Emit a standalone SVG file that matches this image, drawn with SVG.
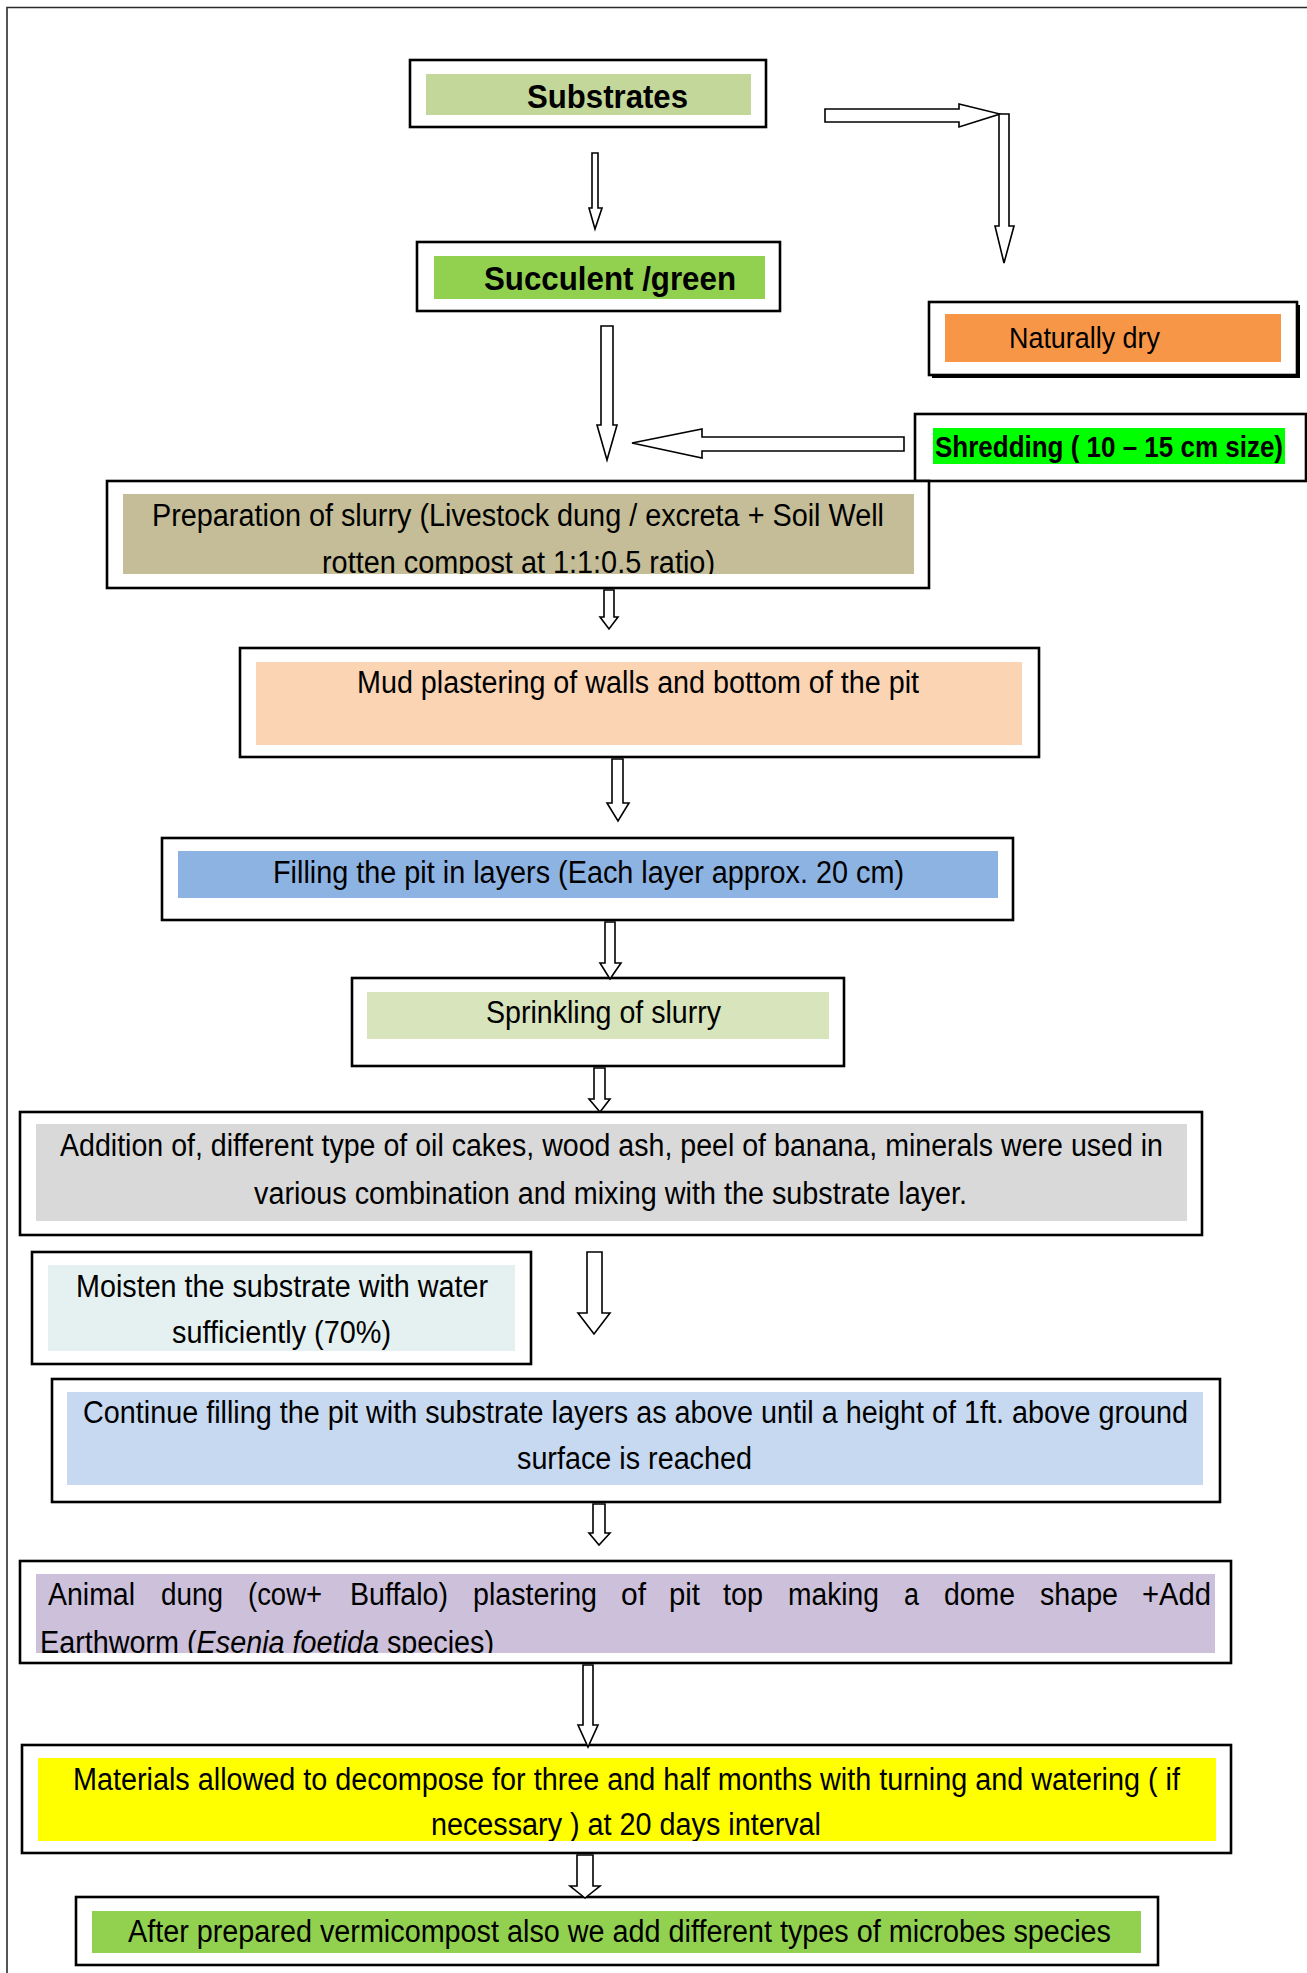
<svg xmlns="http://www.w3.org/2000/svg" width="1307" height="1973" viewBox="0 0 1307 1973">
<style>
.frame{fill:none;stroke:#2b2b2b;stroke-width:1.6}
.box{fill:#fff;stroke:#000;stroke-width:2.6}
.t{font-family:"Liberation Sans",Arial,sans-serif;font-size:31px;fill:#000}
.b{font-weight:bold;font-size:34px}
.arrow{fill:#fff;stroke:#000;stroke-width:1.6;stroke-linejoin:miter}
</style>
<defs>
<clipPath id="cPrep"><rect x="123" y="494" width="791" height="80"/></clipPath>
<clipPath id="cAnimal"><rect x="36" y="1574" width="1179" height="79"/></clipPath>
<clipPath id="cMat"><rect x="38" y="1758" width="1178" height="83"/></clipPath>
</defs>
<rect width="1307" height="1973" fill="#fff"/>
<path class="frame" d="M7,1973 V7.5 H1307"/>

<g id="substrates">
<rect class="box" x="410" y="60" width="356" height="67"/>
<rect x="426" y="74" width="325" height="41" fill="#C4D79B"/>
<text class="t b" x="527" y="108" textLength="161" lengthAdjust="spacingAndGlyphs">Substrates</text>
</g>

<g id="succulent">
<rect class="box" x="417" y="242" width="363" height="69"/>
<rect x="434" y="256" width="331" height="43" fill="#92D050"/>
<text class="t b" x="484" y="290" textLength="252" lengthAdjust="spacingAndGlyphs">Succulent /green</text>
</g>

<g id="naturally-dry">
<rect x="932" y="305" width="368" height="73" fill="#000"/>
<rect class="box" x="929" y="302" width="368" height="73"/>
<rect x="945" y="314" width="336" height="48" fill="#F79646"/>
<text class="t" style="font-size:29px" x="1009" y="348" textLength="151" lengthAdjust="spacingAndGlyphs">Naturally dry</text>
</g>

<g id="shredding">
<rect class="box" x="915" y="414" width="391" height="67"/>
<rect x="933" y="428" width="352" height="36" fill="#00FF00"/>
<text class="t b" style="font-size:30px" x="935" y="457" textLength="348" lengthAdjust="spacingAndGlyphs">Shredding ( 10 – 15 cm size)</text>
</g>

<g id="preparation">
<rect class="box" x="107" y="481" width="822" height="107"/>
<rect x="123" y="494" width="791" height="80" fill="#C4BD97"/>
<g clip-path="url(#cPrep)">
<text class="t" x="152" y="526" textLength="732" lengthAdjust="spacingAndGlyphs">Preparation of slurry (Livestock dung / excreta + Soil Well</text>
<text class="t" x="322" y="573" textLength="393" lengthAdjust="spacingAndGlyphs">rotten compost at 1:1:0.5 ratio)</text>
</g>
</g>

<g id="mud">
<rect class="box" x="240" y="648" width="799" height="109"/>
<rect x="256" y="662" width="766" height="83" fill="#FBD4B4"/>
<text class="t" x="357" y="693" textLength="562" lengthAdjust="spacingAndGlyphs">Mud plastering of walls and bottom of the pit</text>
</g>

<g id="filling">
<rect class="box" x="162" y="838" width="851" height="82"/>
<rect x="178" y="851" width="820" height="47" fill="#8DB3E2"/>
<text class="t" x="273" y="883" textLength="631" lengthAdjust="spacingAndGlyphs">Filling the pit in layers (Each layer approx. 20 cm)</text>
</g>

<g id="sprinkling">
<rect class="box" x="352" y="978" width="492" height="88"/>
<rect x="367" y="992" width="462" height="47" fill="#D7E4BC"/>
<text class="t" x="486" y="1023" textLength="235" lengthAdjust="spacingAndGlyphs">Sprinkling of slurry</text>
</g>

<g id="addition">
<rect class="box" x="20" y="1112" width="1182" height="123"/>
<rect x="36" y="1124" width="1151" height="97" fill="#D9D9D9"/>
<text class="t" x="60" y="1156" textLength="1103" lengthAdjust="spacingAndGlyphs">Addition of, different type of oil cakes, wood ash, peel of banana, minerals were used in</text>
<text class="t" x="254" y="1204" textLength="713" lengthAdjust="spacingAndGlyphs">various combination and mixing with the substrate layer.</text>
</g>

<g id="moisten">
<rect class="box" x="32" y="1252" width="499" height="112"/>
<rect x="48" y="1265" width="467" height="86" fill="#E5F1F0"/>
<text class="t" x="76" y="1297" textLength="412" lengthAdjust="spacingAndGlyphs">Moisten the substrate with water</text>
<text class="t" x="172" y="1343" textLength="219" lengthAdjust="spacingAndGlyphs">sufficiently (70%)</text>
</g>

<g id="continue">
<rect class="box" x="52" y="1379" width="1168" height="123"/>
<rect x="67" y="1392" width="1136" height="93" fill="#C6D9F1"/>
<text class="t" x="83" y="1423" textLength="1105" lengthAdjust="spacingAndGlyphs">Continue filling the pit with substrate layers as above until a height of 1ft. above ground</text>
<text class="t" x="517" y="1469" textLength="235" lengthAdjust="spacingAndGlyphs">surface is reached</text>
</g>

<g id="animal-dung">
<rect class="box" x="20" y="1561" width="1211" height="102"/>
<rect x="36" y="1574" width="1179" height="79" fill="#CCC0DA"/>
<g clip-path="url(#cAnimal)">
<text class="t" y="1605"><tspan x="48" textLength="87" lengthAdjust="spacingAndGlyphs">Animal</tspan> <tspan x="161" textLength="62" lengthAdjust="spacingAndGlyphs">dung</tspan> <tspan x="248" textLength="74" lengthAdjust="spacingAndGlyphs">(cow+</tspan> <tspan x="350" textLength="98" lengthAdjust="spacingAndGlyphs">Buffalo)</tspan> <tspan x="473" textLength="124" lengthAdjust="spacingAndGlyphs">plastering</tspan> <tspan x="621" textLength="25" lengthAdjust="spacingAndGlyphs">of</tspan> <tspan x="669" textLength="31" lengthAdjust="spacingAndGlyphs">pit</tspan> <tspan x="723" textLength="40" lengthAdjust="spacingAndGlyphs">top</tspan> <tspan x="788" textLength="91" lengthAdjust="spacingAndGlyphs">making</tspan> <tspan x="904" textLength="15" lengthAdjust="spacingAndGlyphs">a</tspan> <tspan x="944" textLength="71" lengthAdjust="spacingAndGlyphs">dome</tspan> <tspan x="1040" textLength="78" lengthAdjust="spacingAndGlyphs">shape</tspan> <tspan x="1142" textLength="69" lengthAdjust="spacingAndGlyphs">+Add</tspan></text>
<text class="t" x="40" y="1653" textLength="454" lengthAdjust="spacingAndGlyphs">Earthworm (<tspan font-style="italic">Esenia foetida</tspan> species)</text>
</g>
</g>

<g id="materials">
<rect class="box" x="22" y="1745" width="1209" height="108"/>
<rect x="38" y="1758" width="1178" height="83" fill="#FFFF00"/>
<g clip-path="url(#cMat)">
<text class="t" x="73" y="1790" textLength="1107" lengthAdjust="spacingAndGlyphs">Materials allowed to decompose for three and half months with turning and watering ( if</text>
<text class="t" x="431" y="1835" textLength="390" lengthAdjust="spacingAndGlyphs">necessary ) at 20 days interval</text>
</g>
</g>

<g id="after">
<rect class="box" x="76" y="1897" width="1082" height="68"/>
<rect x="92" y="1911" width="1049" height="42" fill="#92D050"/>
<text class="t" x="128" y="1942" textLength="983" lengthAdjust="spacingAndGlyphs">After prepared vermicompost also we add different types of microbes species</text>
</g>

<g id="connectors">
<polygon class="arrow" points="592,153 598,153 598,208 602,208 595,229 589,208 592,208"/>
<polygon class="arrow" points="825,109 959,109 959,104 1000,114 959,127 959,122 825,122"/>
<polygon class="arrow" points="999,114 1009,114 1009,226 1014,226 1004,263 995,226 999,226"/>
<polygon class="arrow" points="601,326 613,326 613,425 617,425 607,460 597,425 601,425"/>
<polygon class="arrow" points="904,437 904,451 702,451 702,458 632,443 702,429 702,437"/>
<polygon class="arrow" points="604,590 614,590 614,617 618,617 609,629 600,617 604,617"/>
<polygon class="arrow" points="612,759 623,759 623,803 629,803 618,821 607,803 612,803"/>
<polygon class="arrow" points="605,922 615,922 615,963 621,963 610,979 600,963 605,963"/>
<polygon class="arrow" points="594,1068 605,1068 605,1099 610,1099 600,1112 589,1099 594,1099"/>
<polygon class="arrow" points="587,1252 602,1252 602,1313 610,1313 594,1334 578,1313 587,1313"/>
<polygon class="arrow" points="593,1504 605,1504 605,1533 610,1533 599,1545 589,1533 593,1533"/>
<polygon class="arrow" points="583,1665 593,1665 593,1725 598,1725 588,1747 578,1725 583,1725"/>
<polygon class="arrow" points="577,1855 593,1855 593,1886 600,1886 585,1898 570,1886 577,1886"/>
</g>
</svg>
